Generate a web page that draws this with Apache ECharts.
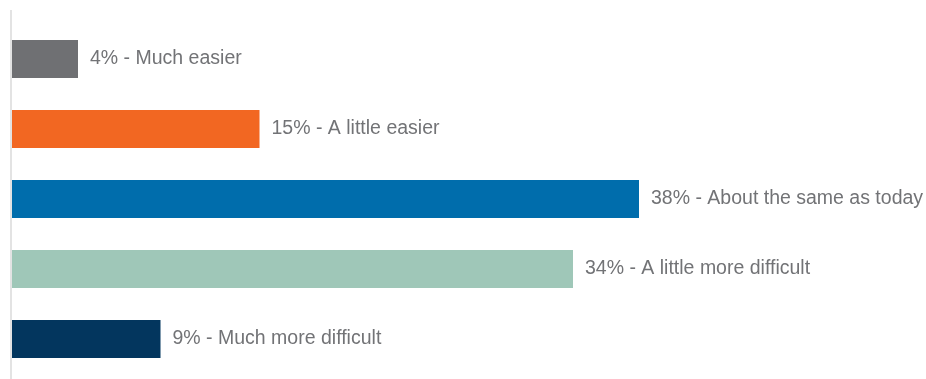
<!DOCTYPE html>
<html>
<head>
<meta charset="utf-8">
<script src="https://cdn.jsdelivr.net/npm/echarts@6/dist/echarts.min.js"></script>
<style>
  html, body { margin: 0; padding: 0; background: #ffffff; }
  #chart { width: 926px; height: 379px; }
</style>
</head>
<body>
<div id="chart"></div>
<script>
// Survey answers, top to bottom
const categories = ['Much easier', 'A little easier', 'About the same as today', 'A little more difficult', 'Much more difficult'];
const percents = [4, 15, 38, 34, 9];
const barColors = ['#6f7073', '#f26722', '#006dac', '#9fc7b8', '#03365e'];

const chart = echarts.init(document.getElementById('chart'), null, { renderer: 'canvas' });

chart.setOption({
  animation: false,
  backgroundColor: '#ffffff',
  grid: { left: 12, top: 24, width: 825, height: 350, containLabel: false },
  xAxis: {
    type: 'value', min: 0, max: 50,
    show: false
  },
  yAxis: {
    type: 'category',
    data: categories,
    inverse: true,
    axisLine: { show: false },
    axisTick: { show: false },
    axisLabel: { show: false }
  },
  graphic: [{
    type: 'line',
    shape: { x1: 11, y1: 10, x2: 11, y2: 379 },
    style: { stroke: '#e3e3e3', lineWidth: 2 },
    z: 0
  }],
  series: [{
    type: 'bar',
    barWidth: 38,
    data: percents.map((v, i) => ({ value: v, itemStyle: { color: barColors[i] } })),
    label: {
      show: true,
      position: 'right',
      distance: 12,
      color: '#727376',
      fontFamily: 'Liberation Sans, Arial, sans-serif',
      fontSize: 19.5,
      formatter: p => p.value + '% - ' + categories[p.dataIndex]
    }
  }]
});
</script>
</body>
</html>
